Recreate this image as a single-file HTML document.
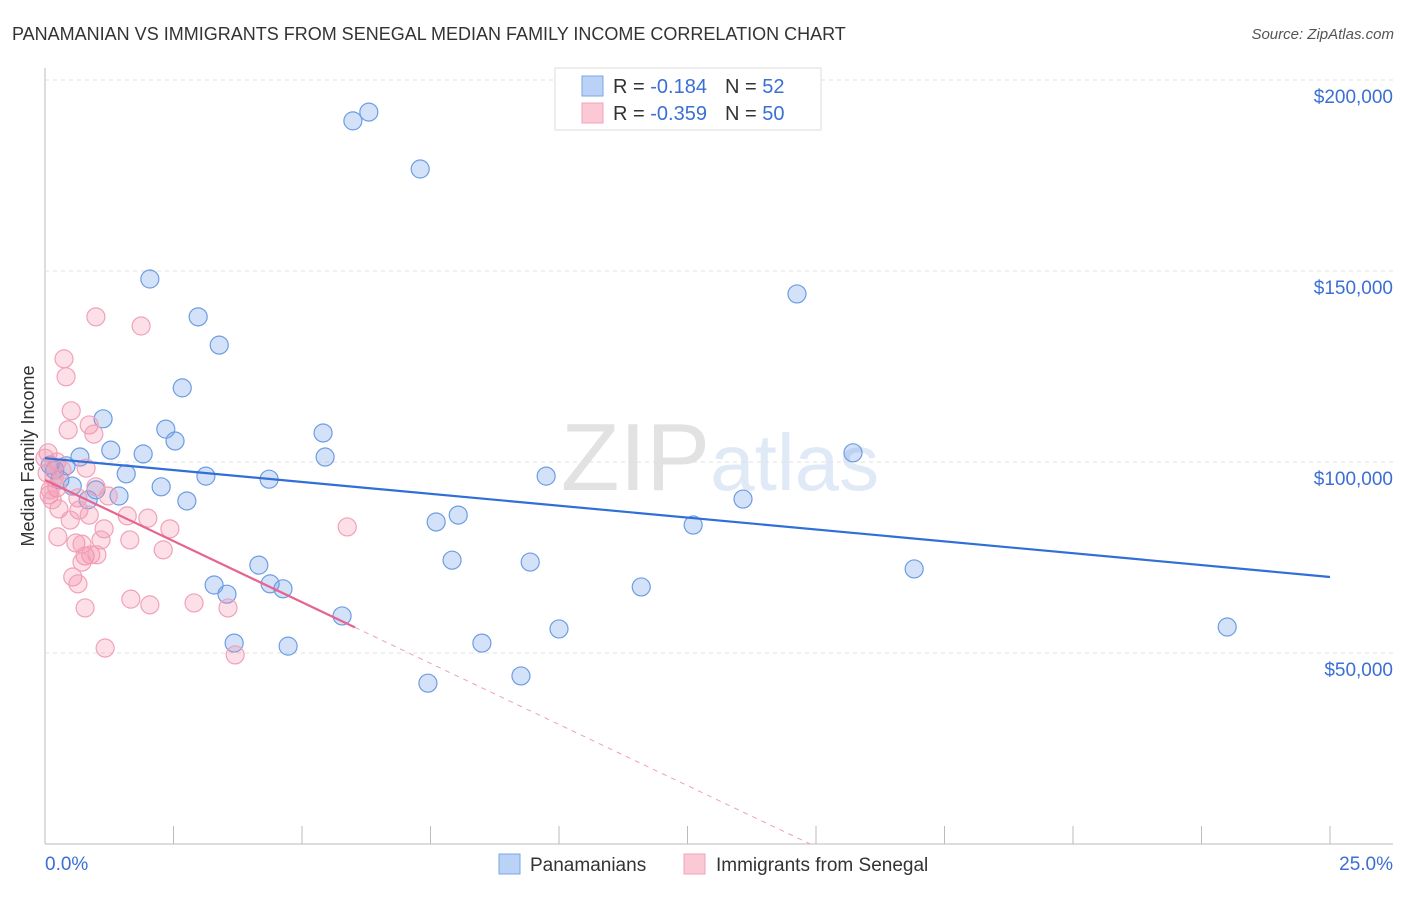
<!DOCTYPE html>
<html><head><meta charset="utf-8"><style>
body{margin:0;background:#fff;font-family:"Liberation Sans",sans-serif}
svg text{font-family:"Liberation Sans",sans-serif}
</style></head><body>
<svg width="1406" height="892" xmlns="http://www.w3.org/2000/svg" id="chart">
<text x="12" y="40" font-size="18" fill="#333">PANAMANIAN VS IMMIGRANTS FROM SENEGAL MEDIAN FAMILY INCOME CORRELATION CHART</text>
<text x="1394" y="39" font-size="15" fill="#555" text-anchor="end" font-style="italic">Source: ZipAtlas.com</text>
<text x="720" y="490" font-size="96" fill="#e6e6e6" text-anchor="middle" font-family="Liberation Serif"><tspan fill="#e2e2e2">ZIP</tspan><tspan fill="#e0e9f6" font-family="Liberation Sans" font-size="80">atlas</tspan></text>
<text transform="translate(34,456) rotate(-90)" font-size="18" fill="#333" text-anchor="middle">Median Family Income</text>
<g id="grid"></g><g id="marks"></g>
<g>
<rect x="555" y="68" width="266" height="62" fill="#fff" stroke="#ddd"/>
<rect x="582" y="76" width="21" height="20" fill="#b9d2f5" stroke="#7aa6e6"/>
<rect x="582" y="103" width="21" height="20" fill="#fbc8d6" stroke="#f1a3ba"/>
<text x="613" y="93" font-size="20" fill="#333">R = <tspan fill="#3b6fd4"> -0.184</tspan><tspan dx="18">N = </tspan><tspan fill="#3b6fd4"> 52</tspan></text>
<text x="613" y="120" font-size="20" fill="#333">R = <tspan fill="#3b6fd4">-0.359</tspan><tspan dx="18">N = </tspan><tspan fill="#3b6fd4">50</tspan></text>
</g>
<g>
<rect x="499" y="854" width="21" height="20" fill="#b9d2f5" stroke="#7aa6e6"/>
<text x="530" y="871" font-size="19" fill="#333">Panamanians</text>
<rect x="684" y="854" width="21" height="20" fill="#fbc8d6" stroke="#f1a3ba"/>
<text x="716" y="871" font-size="19" fill="#333">Immigrants from Senegal</text>
</g>
</svg>
<script>
const yTicks=[50000,100000,150000,200000];
const yTickLabels=["$50,000","$100,000","$150,000","$200,000"];
const xTickLabels=["0.0%","25.0%"];
const blueX=[6.30,5.99,7.30,2.04,14.63,2.98,3.39,2.67,1.13,2.35,5.41,2.53,1.28,1.91,5.45,15.72,0.68,0.41,0.19,1.58,9.75,3.13,4.36,2.26,0.53,1.44,0.84,2.76,13.58,8.04,7.61,12.61,4.16,7.92,9.44,16.91,3.29,4.38,4.63,11.60,3.54,5.78,23.00,10.00,3.68,4.73,8.50,7.45,9.26,0.99,0.29,0.10];
const blueY=[191.6,189.3,176.7,147.9,144.0,138.0,130.6,119.4,111.3,108.6,107.6,105.5,103.1,102.1,101.3,102.4,101.3,99.0,97.9,96.9,96.3,96.3,95.5,93.5,93.7,91.1,90.1,89.8,90.3,86.1,84.3,83.5,73.0,74.3,73.8,72.0,67.8,68.1,66.8,67.3,65.4,59.7,56.8,56.3,52.6,51.8,52.6,42.1,44.0,92.7,95.3,99.2];
const pinkX=[0.99,1.87,0.37,0.41,0.51,0.45,0.86,0.95,0.06,0.23,0.80,0.04,0.18,0.23,0.08,0.99,0.64,1.23,0.27,0.66,0.86,1.60,2.00,2.43,5.88,1.15,0.25,1.09,0.60,0.72,2.30,0.78,0.89,1.01,0.72,0.54,0.64,1.67,2.04,2.90,3.56,0.78,1.17,3.70,0.10,0.33,0.14,0.49,0.00,1.65];
const pinkY=[138.0,135.6,127.0,122.3,113.4,108.4,109.7,107.3,102.4,100.0,98.4,97.1,95.8,93.2,91.4,93.5,90.6,91.1,87.7,87.4,86.1,85.9,85.3,82.5,83.0,82.5,80.4,79.6,78.8,78.5,77.0,75.4,75.7,75.7,73.8,69.9,68.1,64.1,62.6,63.1,61.8,61.8,51.3,49.5,92.7,97.9,90.1,84.8,101.0,79.6];
const blueTrend=[101.0,69.9];
const pinkTrend=[95.3,56.7,6.03];
const NS="http://www.w3.org/2000/svg";
const X=v=>45+v/25*1285;
const Y=v=>844-v/50000*191;
const Yk=v=>Y(v*1000);
function mk(tag,attrs,parent){const e=document.createElementNS(NS,tag);for(const k in attrs)e.setAttribute(k,attrs[k]);parent.appendChild(e);return e;}
const grid=document.getElementById('grid'),marks=document.getElementById('marks');
let l=mk('line',{x1:45,y1:68,x2:45,y2:844,stroke:'#bbb'},grid);


l=mk('line',{x1:45,y1:844,x2:1393,y2:844,stroke:'#bbb'},grid);


yTicks.forEach((t,i)=>{
 const g=mk('line',{x1:45,x2:1393,y1:Y(t),y2:Y(t),stroke:'#e0e0e0','stroke-dasharray':'4,4'},grid);
 
 
 const tx=mk('text',{x:1393,y:Y(t)+23,'font-size':19,fill:'#3b6fd4','text-anchor':'end'},grid);
 tx.textContent=yTickLabels[i];
 
 
});
const topGrid=mk('line',{x1:45,x2:1393,y1:80,y2:80,stroke:'#e0e0e0','stroke-dasharray':'4,4'},grid);


for(let i=1;i<=10;i++){
 const t=mk('line',{x1:X(i*2.5),x2:X(i*2.5),y1:826,y2:844,stroke:'#bbb'},grid);
 
 
}
[[0,'start',45],[25,'end',1393]].forEach((a,i)=>{
 const tx=mk('text',{x:a[2],y:870,'font-size':19,fill:'#3b6fd4','text-anchor':a[1]},grid);
 tx.textContent=xTickLabels[i];
 
 
});
blueX.forEach((x,i)=>{
 const c=mk('circle',{cx:X(x),cy:Yk(blueY[i]),r:9,fill:'rgba(110,160,235,0.3)',stroke:'#6d9de2','stroke-width':1.2},marks);
 
 
});
pinkX.forEach((x,i)=>{
 const c=mk('circle',{cx:X(x),cy:Yk(pinkY[i]),r:9,fill:'rgba(245,140,170,0.28)',stroke:'#f0a2b9','stroke-width':1.2},marks);
 
 
});
let tl=mk('line',{x1:X(0),y1:Yk(blueTrend[0]),x2:X(25),y2:Yk(blueTrend[1]),stroke:'#2f6fd6','stroke-width':2.2},marks);


const slope=(pinkTrend[1]-pinkTrend[0])/pinkTrend[2];
const xz=-pinkTrend[0]/slope;
tl=mk('line',{x1:X(0),y1:Yk(pinkTrend[0]),x2:X(pinkTrend[2]),y2:Yk(pinkTrend[1]),stroke:'#e6648f','stroke-width':2.2},marks);


tl=mk('line',{x1:X(pinkTrend[2]),y1:Yk(pinkTrend[1]),x2:X(xz),y2:Yk(0),stroke:'#eea0b8','stroke-width':1,'stroke-dasharray':'5,5'},marks);


</script>
</body></html>
